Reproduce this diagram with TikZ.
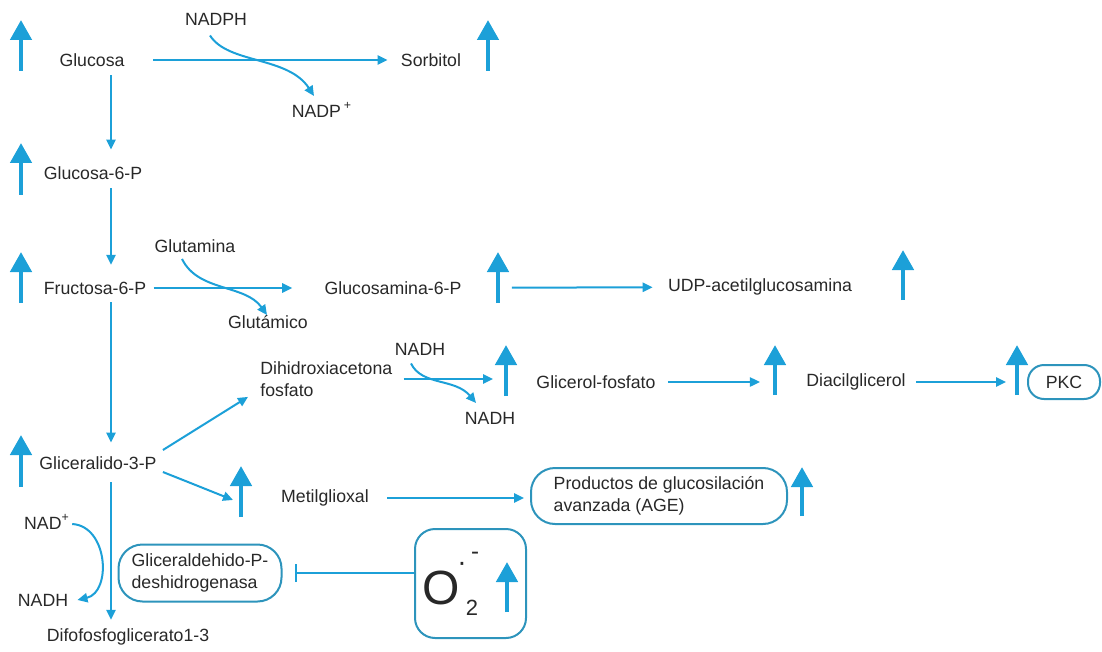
\documentclass[tikz,border=0pt]{standalone}
\usepackage{fontspec}
\setmainfont{Liberation Sans}
\usetikzlibrary{arrows.meta}

\definecolor{pathblue}{RGB}{28,160,216}
\definecolor{boxblue}{RGB}{45,148,188}
\definecolor{labelgray}{RGB}{40,40,40}

\begin{document}
\begin{tikzpicture}[x=0.5pt,y=-0.5pt,
		lbl/.style={inner sep=0pt, text=labelgray, align=left, font=\fontsize{8.85}{11}\selectfont},
		flow/.style={draw=pathblue, line width=1pt, -{Triangle[length=5pt,width=4.6pt]}},
		uparrow/.style={draw=pathblue, line width=2.3pt, -{Triangle[length=10pt,width=10.5pt]}},
		rbox/.style={lbl, draw=boxblue, line width=1pt, rounded corners=12pt},
		inhibit/.style={draw=pathblue, line width=1pt, -{Bar[width=9pt,line width=1pt]}}]

		\useasboundingbox (0,0) rectangle (1102,652);

		% Main column
		\coordinate (col) at (111,0);
		\node[lbl] (glc) at (92,60) {Glucosa};
		\node[lbl] (g6p) at (93,173) {Glucosa-6-P};
		\node[lbl] (f6p) at (95,288) {Fructosa-6-P};
		\node[lbl] (ga3p) at (98,463) {Gliceralido-3-P};
		\node[lbl] (dpg) at (128,637) {Difofosfoglicerato1-3};

		% Side branches
		\node[lbl] (sorb) at (431,60) {Sorbitol};
		\node[lbl] (nadph) at (216,19) {NADPH};
		\node[lbl] (nadp) at (322,110) {NADP\,\textsuperscript{+}};
		\node[lbl] (gln) at (195,246) {Glutamina};
		\node[lbl] (glu) at (268,322) {Glut\'amico};
		\node[lbl] (gln6p) at (393,288) {Glucosamina-6-P};
		\node[lbl] (udp) at (760,287) {UDP-acetilglucosamina};
		\node[lbl, anchor=west] (dhap) at (260,379) {Dihidroxiacetona\\fosfato};
		\node[lbl] (nadhA) at (420,349) {NADH};
		\node[lbl] (nadhB) at (490,418) {NADH};
		\node[lbl] (glyp) at (596,382) {Glicerol-fosfato};
		\node[lbl] (dag) at (856,382) {Diacilglicerol};
		\node[rbox, rounded corners=8pt, minimum width=36pt, minimum height=17pt] (pkc) at (1064,382) {PKC};
		\node[lbl] (mgo) at (325,498) {Metilglioxal};
		\node[rbox, minimum width=128pt, minimum height=28pt] (age) at (659,496) {Productos de glucosilaci\'on\\avanzada (AGE)};
		\node[lbl] (nadox) at (47,522) {NAD\textsuperscript{+}};
		\node[lbl] (nadred) at (43,600) {NADH};
		\node[rbox, minimum width=81.5pt, minimum height=28.5pt] (gapdh) at (200,573) {Gliceraldehido-P-\\deshidrogenasa};

		% Superoxide
		\node[rbox, rounded corners=10pt, minimum width=55.5pt, minimum height=54.5pt] (sox) at (470.5,583.5) {};
		\node[lbl, font=\fontsize{24}{24}\selectfont] (oxy) at (441,588) {O};
		\node[lbl, font=\fontsize{11}{11}\selectfont] (oxytwo) at (472,608) {2};
		\node[lbl, font=\fontsize{14}{14}\selectfont] (oxydot) at (462,567) {·};
		\node[lbl, font=\fontsize{12}{12}\selectfont] (oxyminus) at (475,556) {-};

		% Main column arrows
		\draw[flow, shorten <=4.25pt, shorten >=8.25pt] (glc.south -| col) -- (g6p.north -| col);
		\draw[flow, shorten <=4.25pt, shorten >=8.25pt] (g6p.south -| col) -- (f6p.north -| col);
		\draw[flow, shorten <=3.75pt, shorten >=6.75pt] (f6p.south -| col) -- (ga3p.north -| col);
		\draw[flow, shorten <=6.25pt, shorten >=4.25pt] (ga3p.south -| col) -- (dpg.north -| col);

		% Branch arrows
		\draw[flow, shorten <=14.25pt, shorten >=6.5pt] (glc) -- (sorb);
		\draw[flow, shorten <=3.5pt, shorten >=16pt] (f6p) -- (gln6p);
		\draw[flow, shorten <=25pt, shorten >=7.5pt] (gln6p) -- (udp);
		\draw[flow, shorten <=5.5pt, shorten >=21.5pt] (dhap.east) -- (dhap.east -| glyp.west);
		\draw[flow, shorten <=6pt, shorten >=23pt] (glyp) -- (dag);
		\draw[flow, shorten <=5pt, shorten >=10.5pt] (dag) -- (pkc);
		\draw[flow, shorten <=9pt, shorten >=3pt] (mgo) -- (mgo -| age.west);
		\draw[flow] ([xshift=3pt,yshift=6.5pt]ga3p.east) -- ([xshift=-6pt]dhap.south west);
		\coordinate (mgotip) at (233,500);
		\draw[flow] ([xshift=3pt,yshift=-4.5pt]ga3p.east) -- (mgotip);

		% Cofactors
		\draw[flow] ([xshift=-3pt,yshift=-5pt]nadph.south) .. controls (228,64) and (288,56) .. (314,96);
		\draw[flow] ([xshift=-6.5pt,yshift=-3pt]gln.south) .. controls (198,292) and (245,284) .. (267,315);
		\draw[flow] ([xshift=-4.5pt,yshift=-4pt]nadhA.south) .. controls (422,386) and (455,378) .. (476,403);
		\draw[flow] ([xshift=1pt,yshift=-1pt]nadox.east) .. controls (108,526) and (112,592) .. ([xshift=4.5pt]nadred.east);

		% Inhibition
		\draw[inhibit, shorten >=6pt] (gapdh.east -| sox.west) -- (gapdh.east);

		% Up arrows
		\draw[uparrow] (21,71) -- (21,20);
		\draw[uparrow] (488,71) -- (488,20);
		\draw[uparrow] (21,195) -- (21,143);
		\draw[uparrow] (21,303) -- (21,252);
		\draw[uparrow] (498,303) -- (498,252);
		\draw[uparrow] (903,300) -- (903,250);
		\draw[uparrow] (506,396) -- (506,345);
		\draw[uparrow] (775,395) -- (775,345);
		\draw[uparrow] (1017,395) -- (1017,345);
		\draw[uparrow] (21,487) -- (21,435);
		\draw[uparrow] (241,517) -- (241,466);
		\draw[uparrow] (802,516) -- (802,467);
		\draw[uparrow] (507,612) -- (507,562);

\end{tikzpicture}
\end{document}
